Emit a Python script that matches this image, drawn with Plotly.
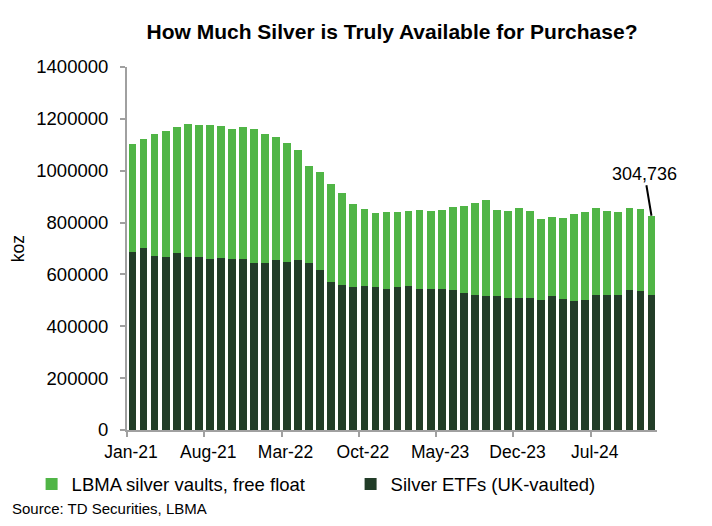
import pandas as pd
import plotly.graph_objects as go

months = list(pd.date_range("2021-01-01", periods=48, freq="MS").strftime("%b-%y"))

etf_uk = [684700, 702500, 671600, 667700, 680900, 667700, 665400, 658800, 662700, 658800,
          658000, 642200, 646000, 655000, 647200, 653800, 642200, 616300, 572500, 560900,
          553200, 553600, 552000, 544000, 550500, 555500, 544000, 545300, 544000, 541600,
          530000, 519500, 518300, 515700, 509100, 508000, 509100, 501400, 515700, 505200,
          496300, 500200, 520700, 519500, 522200, 540000, 535000, 521500]

free_float = [419000, 420500, 470800, 483600, 488600, 510700, 509100, 515700, 509400, 500200,
              511500, 518200, 495200, 475800, 459200, 426700, 376400, 380200, 375300, 353200,
              317200, 298600, 285900, 295400, 288900, 290200, 302900, 299700, 304400, 317200,
              333800, 355900, 368700, 332700, 335900, 346900, 336600, 312100, 306800, 313400,
              335400, 339200, 334200, 323800, 319800, 314900, 316000, 304736]

tick_labels = ["Jan-21", "Aug-21", "Mar-22", "Oct-22", "May-23", "Dec-23", "Jul-24"]

x_idx = list(range(len(months)))
tick_pos = [months.index(t) - 0.5 for t in tick_labels]

LIGHT = "#50B546"
DARK = "#223D28"
FONT = "Liberation Sans, Arial, sans-serif"

fig = go.Figure()
fig.add_trace(go.Bar(x=x_idx, y=etf_uk, name="Silver ETFs (UK-vaulted)",
                     marker=dict(color=DARK, line=dict(width=0)),
                     hovertext=months))
fig.add_trace(go.Bar(x=x_idx, y=free_float, name="LBMA silver vaults, free float",
                     marker=dict(color=LIGHT, line=dict(width=0)),
                     hovertext=months))

last_total = etf_uk[-1] + free_float[-1]

fig.update_layout(
    barmode="stack",
    bargap=0.3,
    width=712, height=526,
    margin=dict(l=127, r=55, t=67, b=96),
    paper_bgcolor="white", plot_bgcolor="white",
    font=dict(family=FONT, size=17, color="black"),
    title=dict(text="<b>How Much Silver is Truly Available for Purchase?</b>",
               x=0.5, xref="paper", xanchor="center",
               y=1 - 32 / 526, yanchor="middle",
               font=dict(family=FONT, size=21, color="black")),
    showlegend=True,
    legend=dict(orientation="h", traceorder="reversed",
                x=-0.18, xanchor="left", y=-0.15, yanchor="middle",
                entrywidth=274, entrywidthmode="pixels",
                font=dict(family=FONT, size=18.5, color="black"),
                itemclick=False, bgcolor="rgba(0,0,0,0)"),
    xaxis=dict(range=[-0.5, len(months) - 0.5],
               tickmode="array", tickvals=tick_pos, ticktext=tick_labels,
               ticklabelshift=4,
               ticks="outside", ticklen=5, tickwidth=1.5, tickcolor="#A0A0A0",
               showline=True, linecolor="#A0A0A0", linewidth=2,
               showgrid=False, zeroline=False,
               tickfont=dict(family=FONT, size=17.5, color="black")),
    yaxis=dict(range=[0, 1400000], dtick=200000, tickformat="d",
               ticks="outside", ticklen=5, tickwidth=1.5, tickcolor="#A0A0A0",
               showline=True, linecolor="#A0A0A0", linewidth=2,
               showgrid=False, zeroline=False,
               ticklabelstandoff=8,
               tickfont=dict(family=FONT, size=18.5, color="black"),
               title=dict(text="koz", standoff=7,
                          font=dict(family=FONT, size=17.5, color="black"))),
)

fig.add_annotation(x=x_idx[-1], y=last_total, xref="x", yref="y",
                   text=f"{free_float[-1]:,}", showarrow=True,
                   arrowhead=0, arrowwidth=2, arrowcolor="black",
                   ax=-7, ay=-42, standoff=0,
                   font=dict(family=FONT, size=18, color="black"))

fig.add_annotation(x=-0.2208, y=-0.2176, xref="paper", yref="paper",
                   xanchor="left", yanchor="middle", showarrow=False,
                   text="Source: TD Securities, LBMA",
                   font=dict(family=FONT, size=15, color="black"))

fig.write_html("out.html")
